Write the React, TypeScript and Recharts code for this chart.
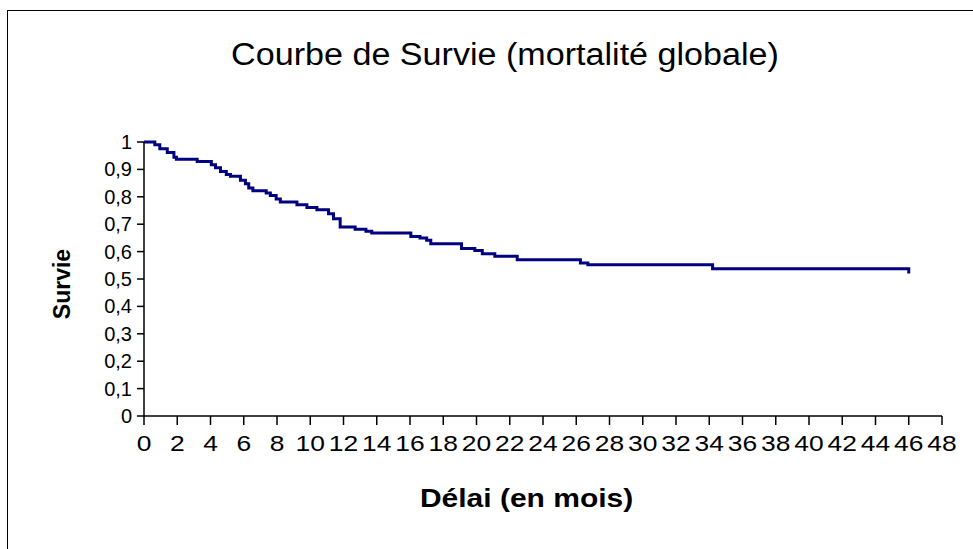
import React from 'react';
import { LineChart, Line, XAxis, YAxis } from 'recharts';

// Kaplan-Meier steps: month, survival
const months = [
  0, 0.65, 0.95, 1.4, 1.8, 1.95, 3.2, 4.05, 4.3, 4.6, 4.95, 5.2, 5.8, 6.1, 6.3, 6.55,
  7.35, 7.6, 7.95, 8.2, 9.2, 9.8, 10.4, 11.1, 11.4, 11.8, 12.7, 13.35, 13.7, 16.05,
  16.6, 17.0, 17.25, 19.1, 19.9, 20.35, 21.1, 22.45, 26.25, 26.7, 34.2, 46.0,
];
const survival = [
  1, 0.99, 0.975, 0.962, 0.944, 0.937, 0.929, 0.917, 0.906, 0.892, 0.881, 0.875, 0.86,
  0.848, 0.832, 0.822, 0.814, 0.805, 0.792, 0.781, 0.771, 0.761, 0.753, 0.738, 0.72,
  0.69, 0.682, 0.674, 0.668, 0.655, 0.65, 0.641, 0.629, 0.611, 0.604, 0.592, 0.583,
  0.57, 0.558, 0.552, 0.537, 0.52,
];
const xTicks = [0, 2, 4, 6, 8, 10, 12, 14, 16, 18, 20, 22, 24, 26, 28, 30, 32, 34, 36, 38, 40, 42, 44, 46, 48];
const yTicks = [0, 0.1, 0.2, 0.3, 0.4, 0.5, 0.6, 0.7, 0.8, 0.9, 1];

const data = months.map((t, i) => ({ t, s: survival[i] }));

const font = '"Liberation Sans", Arial, sans-serif';

const XTick = (props: any) => {
  const { x, y, payload } = props;
  return (
    <text
      x={x}
      y={y + 20}
      textAnchor="middle"
      fontSize={22}
      fontFamily={font}
      fill="#000"
      transform={`translate(${x},0) scale(1.2,1) translate(${-x},0)`}
    >
      {payload.value}
    </text>
  );
};

const YTick = (props: any) => {
  const { x, y, payload } = props;
  const label = String(Math.round(payload.value * 10) / 10).replace('.', ',');
  return (
    <text x={x} y={y + 7} textAnchor="end" fontSize={20} fontFamily={font} fill="#000">
      {label}
    </text>
  );
};

export default function App() {
  return (
    <div style={{ position: 'absolute', left: 0, top: 0, width: 973, height: 549, overflow: 'hidden', background: '#fff', fontFamily: font }}>
      <div style={{ position: 'absolute', left: 7, top: 10, width: 1100, height: 700, border: '1.5px solid #000' }} />
      <div style={{ position: 'absolute', left: 0, top: 37, width: 1010, textAlign: 'center', fontSize: 31, color: '#000', transform: 'scaleX(1.1)', transformOrigin: '505px 0' }}>
        Courbe de Survie (mortalité globale)
      </div>
      <div style={{ position: 'absolute', left: 0, top: 484, width: 1053, textAlign: 'center', fontSize: 25, fontWeight: 'bold', color: '#000', transform: 'scaleX(1.2)', transformOrigin: '526px 0' }}>
        Délai (en mois)
      </div>
      <div style={{ position: 'absolute', left: 62, top: 284, transform: 'translate(-50%, -50%) rotate(-90deg)', fontSize: 23, fontWeight: 'bold', color: '#000', whiteSpace: 'nowrap' }}>
        Survie
      </div>
      <LineChart
        width={973}
        height={549}
        data={data}
        margin={{ top: 142, right: 31, bottom: 93, left: 84 }}
        style={{ position: 'absolute', left: 0, top: 0 }}
      >
        <XAxis
          dataKey="t"
          type="number"
          domain={[0, 48]}
          ticks={xTicks}
          interval={0}
          height={40}
          tickSize={9}
          tickMargin={6}
          axisLine={{ stroke: '#000', strokeWidth: 1.5 }}
          tickLine={{ stroke: '#000', strokeWidth: 1.5 }}
          tick={<XTick />}
        />
        <YAxis
          type="number"
          domain={[0, 1]}
          ticks={yTicks}
          interval={0}
          width={60}
          tickSize={7}
          tickMargin={5}
          axisLine={{ stroke: '#000', strokeWidth: 1.5 }}
          tickLine={{ stroke: '#000', strokeWidth: 1.5 }}
          tick={<YTick />}
        />
        <Line
          type="stepAfter"
          dataKey="s"
          stroke="#000080"
          strokeWidth={3}
          dot={false}
          isAnimationActive={false}
        />
      </LineChart>
    </div>
  );
}
